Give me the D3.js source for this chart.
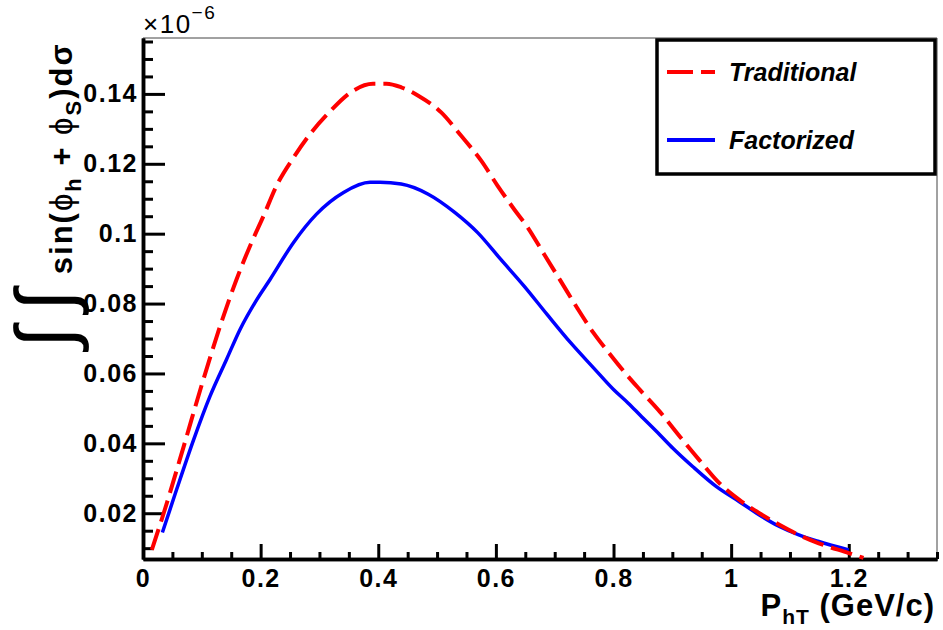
<!DOCTYPE html>
<html>
<head>
<meta charset="utf-8">
<script src="https://cdn.jsdelivr.net/npm/d3@7"></script>
<style>
  body { margin: 0; background: #fff; }
  text { font-family: "Liberation Sans", Arial, Helvetica, sans-serif; }
</style>
</head>
<body>
<div id="chart"></div>
<script>
// DATA
// ------------------------------------------------------------------

// Traditional (red dashed), values in units of 1e-6
var tradX = [0.015, 0.037, 0.069, 0.100, 0.131, 0.159, 0.182, 0.205, 0.227, 0.256,
             0.284, 0.318, 0.352, 0.391, 0.414, 0.439, 0.468, 0.507, 0.541, 0.575,
             0.603, 0.631, 0.654, 0.682, 0.710, 0.738, 0.766, 0.794, 0.823, 0.845,
             0.879, 0.913, 0.946, 0.980, 1.014, 1.048, 1.082, 1.115, 1.149, 1.200, 1.225];
var tradY = [0.0095, 0.0210, 0.0390, 0.0568, 0.0735, 0.0869, 0.0965, 0.1051, 0.1137, 0.1218,
             0.1285, 0.1350, 0.1403, 0.1429, 0.1429, 0.1419, 0.1395, 0.1347, 0.1280, 0.1209,
             0.1137, 0.1070, 0.1018, 0.0941, 0.0865, 0.0788, 0.0716, 0.0655, 0.0595, 0.0553,
             0.0490, 0.0419, 0.0352, 0.0286, 0.0238, 0.0200, 0.0167, 0.0138, 0.0114, 0.0086, 0.0072];

// Factorized (blue solid)
var factX = [0.033, 0.057, 0.086, 0.114, 0.142, 0.165, 0.193, 0.216, 0.256, 0.295,
             0.341, 0.386, 0.403, 0.439, 0.485, 0.530, 0.569, 0.608, 0.648, 0.687,
             0.727, 0.766, 0.800, 0.825, 0.845, 0.879, 0.901, 0.935, 0.975, 1.014,
             1.048, 1.082, 1.115, 1.149, 1.200];
var factY = [0.0145, 0.0267, 0.0410, 0.0535, 0.0640, 0.0726, 0.0810, 0.0869, 0.0975, 0.1056,
             0.1118, 0.1147, 0.1147, 0.1142, 0.1113, 0.1061, 0.1003, 0.0927, 0.0850, 0.0769,
             0.0688, 0.0616, 0.0554, 0.0515, 0.0481, 0.0424, 0.0386, 0.0333, 0.0276, 0.0233,
             0.0195, 0.0162, 0.0138, 0.0119, 0.0095];

var xMajor = [0, 0.2, 0.4, 0.6, 0.8, 1, 1.2];
var yMajor = [0.02, 0.04, 0.06, 0.08, 0.1, 0.12, 0.14];
var legendNames = ["Traditional", "Factorized"];

// CANVAS
// ------------------------------------------------------------------

var width = 943,
    height = 630;

var padLeft = 143, padRight = 937, padTop = 38, padBottom = 559;

var svg = d3.select("#chart")
    .append("svg")
    .attr("width", width)
    .attr("height", height)
    .style("background", "#fff");

var xScale = d3.scaleLinear().domain([0, 1.35]).range([padLeft, padRight]),
    yScale = d3.scaleLinear().domain([0.0069, 0.156]).range([padBottom, padTop]);

var fmt = function(d) { return String(+d.toFixed(2)); };

// minor ticks every 0.05 (x) and 0.005 (y)
var xMinor = d3.range(0, 1.351, 0.05).map(function(d) { return +d.toFixed(2); })
    .filter(function(d) { return xMajor.indexOf(d) < 0; });
var yMinor = d3.range(0.01, 0.156, 0.005).map(function(d) { return +d.toFixed(3); })
    .filter(function(d) { return yMajor.indexOf(d) < 0; });

// FRAME
// ------------------------------------------------------------------

svg.append("path")
    .attr("d", "M" + padLeft + "," + padTop + "H" + padRight + "V" + padBottom)
    .attr("fill", "none")
    .attr("stroke", "#444")
    .attr("stroke-width", 1);

// AXES
// ------------------------------------------------------------------

function styleAxis(g, fontSize) {
  g.selectAll("line").attr("stroke", "#000").attr("stroke-width", 3);
  g.selectAll(".domain").attr("stroke", "#000").attr("stroke-width", 3.5);
  g.selectAll("text")
      .attr("fill", "#000")
      .style("font-size", fontSize + "px")
      .style("font-weight", "bold")
      .style("letter-spacing", "1.5px");
}

svg.append("g")
    .attr("transform", "translate(0," + padBottom + ")")
    .call(d3.axisBottom(xScale).tickValues(xMinor).tickSize(-7).tickSizeOuter(0).tickFormat(""))
    .call(styleAxis, 25);
svg.append("g")
    .attr("transform", "translate(0," + padBottom + ")")
    .call(d3.axisBottom(xScale).tickValues(xMajor).tickSize(-15).tickSizeOuter(0)
          .tickPadding(10).tickFormat(fmt))
    .call(styleAxis, 25);

svg.append("g")
    .attr("transform", "translate(" + padLeft + ",0)")
    .call(d3.axisLeft(yScale).tickValues(yMinor).tickSize(-10).tickSizeOuter(0).tickFormat(""))
    .call(styleAxis, 25);
svg.append("g")
    .attr("transform", "translate(" + padLeft + ",0)")
    .call(d3.axisLeft(yScale).tickValues(yMajor).tickSize(-22).tickSizeOuter(0)
          .tickPadding(5).tickFormat(fmt))
    .call(styleAxis, 25);

// exponent label
var expo = svg.append("text")
    .attr("x", padLeft)
    .attr("y", 33)
    .style("font-size", "26px")
    .style("letter-spacing", "1.5px")
    .text("\u00d710");
expo.append("tspan")
    .attr("dy", -14)
    .style("font-size", "19px")
    .text("\u22126");

// axis titles
var xt = svg.append("text")
    .attr("x", 935)
    .attr("y", 616)
    .attr("text-anchor", "end")
    .style("font-size", "31px")
    .style("font-weight", "bold")
    .style("letter-spacing", "1px")
    .text("P");
xt.append("tspan").attr("dy", 8).style("font-size", "21px").text("hT");
xt.append("tspan").attr("dy", -8).text(" (GeV/c)");

var yt = svg.append("text")
    .attr("transform", "translate(72,348) rotate(-90)")
    .attr("text-anchor", "start")
    .style("font-size", "31px")
    .style("font-weight", "bold")
    .style("letter-spacing", "2px");
yt.append("tspan").style("font-size", "80px").style("font-weight", "normal")
    .style("letter-spacing", "15px")
    .text("\u222b\u222b");
yt.append("tspan").text("sin(");
yt.append("tspan").style("font-weight", "normal").text("\u03d5");
yt.append("tspan").attr("dy", 9).style("font-size", "22px").text("h");
yt.append("tspan").attr("dy", -9).text(" + ");
yt.append("tspan").style("font-weight", "normal").text("\u03d5");
yt.append("tspan").attr("dy", 9).style("font-size", "22px").text("S");
yt.append("tspan").attr("dy", -9).text(")d\u03c3");

// PATHS
// ------------------------------------------------------------------

var line = d3.line()
    .x(function(d) { return xScale(d[0]); })
    .y(function(d) { return yScale(d[1]); })
    .curve(d3.curveMonotoneX);

var tradData = tradX.map(function(x, i) { return [x, tradY[i]]; }),
    factData = factX.map(function(x, i) { return [x, factY[i]]; });

svg.append("path")
    .attr("d", line(factData))
    .attr("fill", "none")
    .attr("stroke", "#0000ff")
    .attr("stroke-width", 3.5);

svg.append("path")
    .attr("d", line(tradData))
    .attr("fill", "none")
    .attr("stroke", "#ff0000")
    .attr("stroke-width", 4)
    .attr("stroke-dasharray", "22,8");

// LEGEND
// ------------------------------------------------------------------

svg.append("rect")
    .attr("x", 657).attr("y", 40)
    .attr("width", 278).attr("height", 134)
    .attr("fill", "#fff")
    .attr("stroke", "#000")
    .attr("stroke-width", 3.5);

var legendStyle = [
  { color: "#ff0000", dash: "26,8", y: 72 },
  { color: "#0000ff", dash: null, y: 140 }
];

legendNames.forEach(function(name, i) {
  var s = legendStyle[i];
  svg.append("line")
      .attr("x1", 667).attr("x2", 715)
      .attr("y1", s.y).attr("y2", s.y)
      .attr("stroke", s.color)
      .attr("stroke-width", 4)
      .attr("stroke-dasharray", s.dash);
  svg.append("text")
      .attr("x", 729)
      .attr("y", s.y + 9)
      .style("font-size", "25px")
      .style("font-weight", "bold")
      .style("font-style", "italic")
      .text(name);
});
</script>
</body>
</html>
